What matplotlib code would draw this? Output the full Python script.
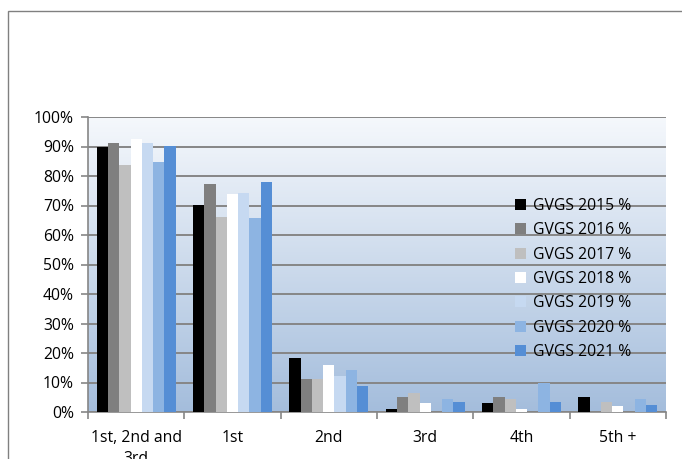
import numpy as np
import matplotlib
matplotlib.use("Agg")
import matplotlib.pyplot as plt
from matplotlib.colors import LinearSegmentedColormap
from matplotlib.patches import Rectangle
from matplotlib.ticker import FuncFormatter

categories = ["1st, 2nd and\n3rd", "1st", "2nd", "3rd", "4th", "5th +"]
series_names = ["GVGS 2015 %", "GVGS 2016 %", "GVGS 2017 %", "GVGS 2018 %",
                "GVGS 2019 %", "GVGS 2020 %", "GVGS 2021 %"]
gvgs_2015 = [89.8, 70.3, 18.3, 1.0, 3.1, 5.0]
gvgs_2016 = [91.1, 77.2, 11.3, 5.2, 5.2, 0.0]
gvgs_2017 = [83.6, 66.0, 11.1, 6.6, 4.4, 3.3]
gvgs_2018 = [92.6, 73.9, 15.8, 3.1, 1.0, 1.9]
gvgs_2019 = [91.3, 74.2, 12.3, 0.0, 0.0, 0.0]
gvgs_2020 = [84.7, 65.7, 14.3, 4.4, 10.0, 4.3]
gvgs_2021 = [90.1, 77.8, 8.8, 3.4, 3.4, 2.3]
series = [gvgs_2015, gvgs_2016, gvgs_2017, gvgs_2018, gvgs_2019, gvgs_2020, gvgs_2021]
colors = ["#000000", "#7F7F7F", "#BFBFBF", "#FFFFFF", "#C6D9F1", "#8DB4E2", "#558ED5"]

plt.rcParams["font.family"] = ["Open Sans", "DejaVu Sans"]

W, H = 682, 459
fig = plt.figure(figsize=(W / 100, H / 100), dpi=100)

# outer chart frame (extends past the right and bottom edges)
fig.patches.append(Rectangle((8 / W, -0.5), 2.0, (1 - 11 / H) + 0.5,
                             transform=fig.transFigure, fill=False,
                             edgecolor="#808080", linewidth=1.0))

left, right, top, bottom = 88, 666, 117, 412
ax = fig.add_axes([left / W, 1 - bottom / H, (right - left) / W, (bottom - top) / H])
ax.patch.set_visible(False)

# vertical gradient fill of the plot area
grad = LinearSegmentedColormap.from_list("plotfill", ["#A4BDDC", "#F5F8FC"])
ax.imshow(np.linspace(0, 1, 256).reshape(-1, 1), aspect="auto", cmap=grad,
          origin="lower", extent=(0, 1, 0, 1), transform=ax.transAxes, zorder=0)

n = len(series)
x = np.arange(len(categories))
bw = 1.0 / (n + 1.55)
for i, (vals, c, name) in enumerate(zip(series, colors, series_names)):
    offs = (i - (n - 1) / 2) * bw
    ax.bar(x + offs, vals, width=bw, color=c, label=name, zorder=3, linewidth=0)

ax.set_xlim(-0.5, len(categories) - 0.5)
ax.set_ylim(0, 100)
ax.set_yticks(np.arange(0, 101, 10))
ax.yaxis.set_major_formatter(FuncFormatter(lambda v, p: f"{int(v)}%"))
ax.yaxis.grid(True, color="#868686", linewidth=1.4, zorder=1)
ax.set_axisbelow(True)

ax.set_xticks(x)
ax.set_xticklabels(categories, fontsize=11.3, linespacing=1.45)
ax.set_xticks(np.arange(-0.5, len(categories), 1), minor=True)
ax.tick_params(axis="x", which="major", length=0, pad=13)
ax.tick_params(axis="x", which="minor", length=5, color="#868686", width=1.2)
ax.tick_params(axis="y", length=5, color="#868686", width=1.2, labelsize=11.3, pad=5)

for s in ["top", "right"]:
    ax.spines[s].set_visible(False)
for s in ["left", "bottom"]:
    ax.spines[s].set_color("#868686")
    ax.spines[s].set_linewidth(1.2)

leg = ax.legend(loc="upper left", bbox_to_anchor=(515 / W, 1 - 198 / H),
                bbox_transform=fig.transFigure, frameon=False, fontsize=11.3,
                handlelength=0.7, handleheight=0.7, handletextpad=0.45,
                labelspacing=0.53, borderaxespad=0, borderpad=0)

fig.savefig("out.png", dpi=100)
